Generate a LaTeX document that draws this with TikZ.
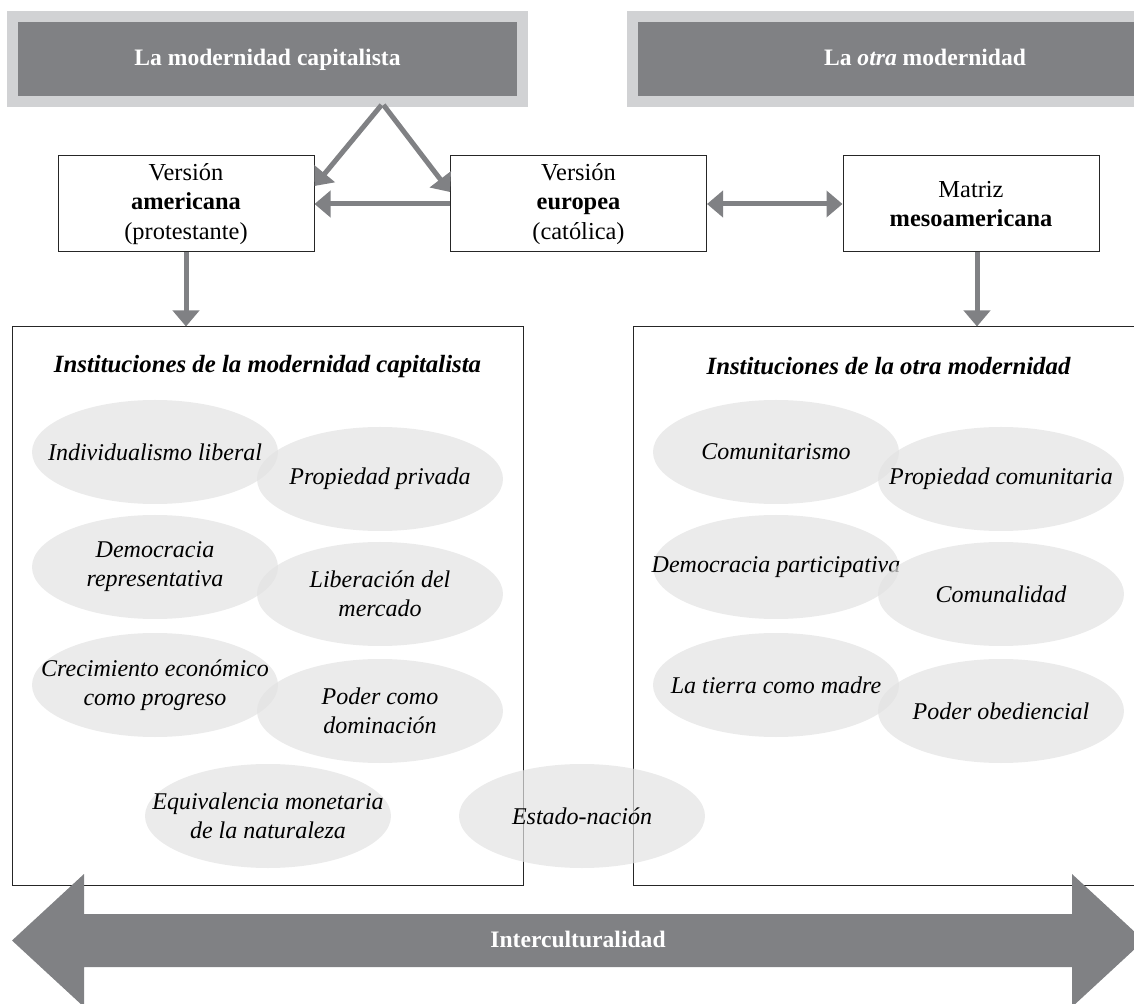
\documentclass[tikz,border=0pt]{standalone}
\usepackage{fontspec}
\setmainfont{Liberation Serif}
\usetikzlibrary{arrows.meta,positioning,shapes.geometric}

\definecolor{hdrdark}{RGB}{128,129,132}
\definecolor{hdrlight}{RGB}{209,210,212}
\definecolor{ovalgray}{RGB}{226,226,226}

\begin{document}
\begin{tikzpicture}[%
    x=0.5pt, y=-0.5pt,
    >={Triangle[length=8pt,width=13pt]},
    node distance=196.25pt,
    on grid,
    header/.style={draw=hdrlight, line width=5.5pt, fill=hdrdark, text=white,
        font=\fontsize{11.8}{14}\selectfont\bfseries, minimum height=42.5pt,
        text height=1.5ex, text depth=0pt},
    version/.style={draw=black!85, line width=0.5pt, minimum width=128pt,
        minimum height=48pt, align=center, font=\fontsize{12.2}{14.6}\selectfont},
    instbox/.style={draw=black!85, line width=0.5pt, minimum width=255.5pt,
        minimum height=279pt},
    insttitle/.style={font=\fontsize{12.4}{14.5}\selectfont\bfseries\itshape},
    oval/.style={ellipse, fill=ovalgray, fill opacity=0.7, minimum width=123pt,
        minimum height=52pt, inner sep=0pt},
    ovaltxt/.style={fill=none, text opacity=1, align=center, inner sep=0pt,
        font=\fontsize{12}{14.5}\selectfont\itshape},
    link/.style={->, draw=hdrdark, line width=2.5pt}
    ]

    \useasboundingbox (0,0) rectangle (1134,1004);
    \clip (0,0) rectangle (1134,1004);

    \node[header, minimum width=255pt] (lhead) at (267.5,59) {La modernidad capitalista};
    \node[header, minimum width=292.5pt] (rhead) at (925,59) {La \textit{otra} modernidad};

    \node[version] (amer) at (186,204) {Versión\\\textbf{americana}\\(protestante)};
    \node[version] (euro) [right=of amer] {Versión\\\textbf{europea}\\(católica)};
    \node[version] (meso) [right=of euro] {Matriz\\\textbf{mesoamericana}};

    \node[instbox] (lbox) at (267.5,606) {};
    \node[instbox] (rbox) at (888.5,606) {};
    \node[insttitle] (ltitle) at ([yshift=-20pt]lbox.north) {Instituciones de la modernidad capitalista};
    \node[insttitle] (rtitle) at ([yshift=-20pt]rbox.north) {Instituciones de la otra modernidad};

    \node[oval, label={[ovaltxt]center:Individualismo liberal}] (indiv) at (155,452) {};
    \node[oval, label={[ovaltxt]center:Propiedad privada}] (propriv) at (380,479) {};
    \node[oval, label={[ovaltxt]center:{Democracia\\representativa}}] (demrep) at (155,567) {};
    \node[oval, label={[ovaltxt]center:{Liberación del\\mercado}}] (libmerc) at (380,594) {};
    \node[oval, label={[ovaltxt]center:{Crecimiento económico\\como progreso}}] (crec) at (155,685) {};
    \node[oval, label={[ovaltxt]center:{Poder como\\dominación}}] (poddom) at (380,711) {};
    \node[oval, label={[ovaltxt]center:{Equivalencia monetaria\\de la naturaleza}}] (equiv) at (268,816) {};
    \node[oval, label={[ovaltxt]center:Estado-nación}] (estado) at (582,816) {};

    \node[oval, label={[ovaltxt]center:Comunitarismo}] (comun) at (776,452) {};
    \node[oval, label={[ovaltxt]center:Propiedad comunitaria}] (propcom) at (1001,479) {};
    \node[oval, label={[ovaltxt]center:Democracia participativa}] (dempart) at (776,567) {};
    \node[oval, label={[ovaltxt]center:Comunalidad}] (comunal) at (1001,594) {};
    \node[oval, label={[ovaltxt]center:La tierra como madre}] (tierra) at (776,685) {};
    \node[oval, label={[ovaltxt]center:Poder obediencial}] (podobe) at (1001,711) {};

    \draw[link] ([xshift=57pt,yshift=1pt]lhead.south) -- ([yshift=9pt]amer.east);
    \draw[link] ([xshift=58pt,yshift=1pt]lhead.south) -- ([yshift=6pt]euro.west);
    \draw[link] (euro) -- (amer);
    \draw[link, <->] (euro) -- (meso);
    \draw[link] (amer) -- (amer |- lbox.north);
    \draw[link] ([xshift=3pt]meso.south) -- ([xshift=3pt]meso.south |- rbox.north);

    \fill[hdrdark] (12,940.5) -- (84,874) -- (84,914) -- (1072,914) -- (1072,874)
        -- (1144,940.5) -- (1072,1007) -- (1072,967) -- (84,967) -- (84,1007) -- cycle;
    \node[text=white, font=\fontsize{11.8}{14}\selectfont\bfseries, text height=1.5ex,
        text depth=0pt] (inter) at (578,940.5) {Interculturalidad};

\end{tikzpicture}
\end{document}
